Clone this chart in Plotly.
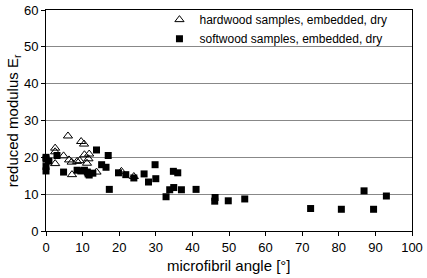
import plotly.graph_objects as go

hard_x = [2.5, 2.5, 2.5, 4.8, 6.0, 6.3, 7.0, 7.1, 8.5, 9.2, 9.6, 10.4, 10.5, 11.2, 11.6, 11.8, 13.8, 20.6, 24.0]
hard_y = [22.5, 21.5, 18.3, 20.4, 25.8, 19.3, 18.7, 15.3, 18.9, 19.1, 24.3, 23.6, 20.7, 18.4, 19.6, 20.9, 16.0, 16.2, 14.8]

soft_x = [0, 0, 0, 0, 0.8, 3.0, 4.8, 8.5, 9.5, 10.5, 11.3, 11.5, 11.8, 12.8, 13.8, 15.2, 16.4, 17.0, 17.3,
          19.8, 21.8, 24.0, 26.8, 28.0, 29.8, 30.0, 32.8, 33.8, 34.9, 34.8, 36.0, 37.0, 41.0, 46.2, 46.1,
          49.8, 54.3, 72.3, 80.7, 86.9, 89.5, 93.0]
soft_y = [20.0, 19.5, 17.5, 16.3, 19.0, 20.5, 16.0, 16.5, 16.3, 16.5, 16.0, 15.5, 15.2, 15.7, 22.0, 18.0, 17.3, 20.5, 11.3,
          15.8, 15.3, 14.4, 15.5, 13.3, 18.0, 14.2, 9.3, 11.2, 11.8, 16.2, 15.8, 11.2, 11.3, 9.1, 8.1,
          8.2, 8.7, 6.1, 5.9, 10.9, 5.9, 9.5]

x_ticks = [0, 10, 20, 30, 40, 50, 60, 70, 80, 90, 100]
y_ticks = [0, 10, 20, 30, 40, 50, 60]

fig = go.Figure()
fig.add_trace(go.Scatter(
    x=hard_x, y=hard_y, mode="markers", name="hardwood samples, embedded, dry",
    marker=dict(symbol="triangle-up-open", size=8, color="black", line=dict(width=1, color="black")),
    cliponaxis=False))
fig.add_trace(go.Scatter(
    x=soft_x, y=soft_y, mode="markers", name="softwood samples, embedded, dry",
    marker=dict(symbol="square", size=7, color="black", line=dict(width=0)),
    cliponaxis=False))

fig.update_layout(
    width=427, height=278,
    margin=dict(l=46, r=15, t=10, b=47, autoexpand=False),
    paper_bgcolor="white", plot_bgcolor="white",
    font=dict(family="Liberation Sans, Arial, sans-serif", size=13, color="black"),
    showlegend=True,
    legend=dict(x=0.31, y=1.022, xanchor="left", yanchor="top", bgcolor="rgba(255,255,255,0)",
                borderwidth=0, font=dict(size=12), itemsizing="trace",
                tracegroupgap=0, itemwidth=30),
    xaxis=dict(range=[0, 100], tickvals=x_ticks, ticks="outside", ticklen=4, tickcolor="black",
               showline=True, linecolor="black", linewidth=1, mirror=True, showgrid=False,
               zeroline=False, tickfont=dict(size=13), automargin=False),
    yaxis=dict(range=[0, 60], tickvals=y_ticks, ticks="outside", ticklen=4, tickcolor="black",
               showline=True, linecolor="black", linewidth=1, mirror=True, showgrid=True,
               gridcolor="#888888", gridwidth=1, zeroline=False, tickfont=dict(size=13),
               automargin=False),
    annotations=[
        dict(text="microfibril angle [°]", xref="paper", yref="paper", x=0.5, y=-0.155,
             xanchor="center", yanchor="middle", showarrow=False, font=dict(size=15)),
        dict(text="reduced modulus E<sub>r</sub>", xref="paper", yref="paper", x=-0.088, y=0.5,
             xanchor="center", yanchor="middle", showarrow=False, textangle=-90, font=dict(size=15)),
    ],
)
fig.write_html("out.html", config={"displayModeBar": False},
               post_script="document.body.style.margin='0';document.body.style.padding='0';")
